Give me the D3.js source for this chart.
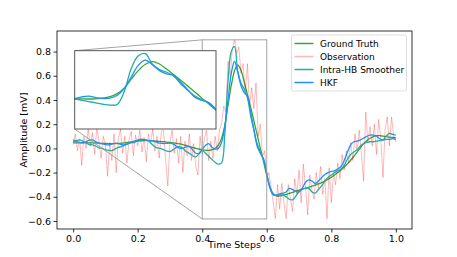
<!DOCTYPE html>
<html lang="en">
<head>
<meta charset="utf-8">
<title>Ground truth vs filters</title>
<script src="https://d3js.org/d3.v7.min.js"></script>
<style>
body { margin: 0; background: #fff; }
svg text { font-family: "DejaVu Sans", sans-serif; fill: #000; }
</style>
</head>
<body>
<div id="chart"></div>
<script>

// time grid of the smooth curves (0.01 steps) and of the noisy observation (1/150 steps)
var tSmooth = d3.range(0, 101).map(function(i){ return i / 100; });
var tObs = d3.range(0, 151).map(function(i){ return i / 150; });

var truth = [
  0.045, 0.046, 0.047, 0.047, 0.047, 0.046, 0.045, 0.044, 0.043, 0.042,
  0.041, 0.040, 0.040, 0.040, 0.041, 0.043, 0.046, 0.050, 0.054, 0.058,
  0.061, 0.063, 0.064, 0.064, 0.063, 0.061, 0.059, 0.057, 0.055, 0.052,
  0.049, 0.046, 0.042, 0.037, 0.031, 0.024, 0.016, 0.008, 0.001, -0.006,
  -0.012, -0.015, -0.016, -0.012, 0.000, 0.027, 0.085, 0.190, 0.360, 0.520,
  0.640, 0.690, 0.645, 0.550, 0.445, 0.340, 0.230, 0.115, 0.000, -0.110,
  -0.225, -0.320, -0.375, -0.392, -0.393, -0.388, -0.380, -0.372, -0.363, -0.354,
  -0.345, -0.337, -0.329, -0.321, -0.312, -0.303, -0.294, -0.283, -0.270, -0.255,
  -0.238, -0.220, -0.200, -0.178, -0.154, -0.128, -0.098, -0.065, -0.030, 0.005,
  0.038, 0.064, 0.084, 0.098, 0.105, 0.105, 0.101, 0.097, 0.093, 0.090,
  0.088
];

var observation = [
  0.03, 0.12, -0.02, 0.08, -0.14, 0.10, 0.00, 0.16, 0.02, 0.13,
  -0.05, 0.17, 0.06, -0.08, 0.10, 0.03, -0.23, 0.05, -0.10, 0.12,
  -0.20, 0.08, 0.16, -0.04, 0.10, -0.12, 0.07, 0.14, -0.06, 0.11,
  0.02, 0.15, -0.03, 0.09, -0.11, 0.12, 0.04, 0.16, -0.02, 0.10,
  -0.08, 0.14, 0.15, -0.10, -0.31, 0.05, 0.15, -0.04, 0.08, -0.12,
  0.10, -0.20, 0.06, -0.06, 0.12, -0.10, 0.04, -0.15, -0.22, 0.10,
  -0.05, 0.08, 0.15, -0.10, 0.06, -0.08, 0.10, -0.02, 0.15, 0.20,
  0.35, 0.30, 0.72, 0.60, 0.82, 0.90, 0.78, 0.84, 0.62, 0.70,
  0.46, 0.70, 0.35, 0.50, 0.33, 0.54, 0.10, 0.20, -0.07, -0.02,
  -0.25, -0.20, -0.32, -0.45, -0.58, -0.30, -0.50, -0.29, -0.45, -0.58,
  -0.30, -0.42, -0.52, -0.25, -0.38, -0.18, -0.45, -0.13, -0.32, -0.55,
  -0.22, -0.35, -0.42, -0.20, -0.33, -0.15, -0.38, -0.25, -0.58, -0.16,
  -0.45, -0.20, -0.30, -0.12, -0.25, -0.05, -0.18, -0.02, -0.12, 0.05,
  -0.10, 0.12, -0.02, 0.15, -0.05, -0.27, 0.30, 0.05, 0.18, 0.02,
  0.20, -0.05, 0.24, 0.08, -0.24, 0.15, 0.26, 0.02, 0.26, 0.10,
  0.05
];

var smoother = [
  0.056, 0.065, 0.070, 0.060, 0.045, 0.032, 0.030, 0.020, 0.005, 0.000,
  -0.010, -0.017, -0.018, -0.005, 0.008, 0.015, 0.028, 0.040, 0.050, 0.060,
  0.068, 0.070, 0.070, 0.065, 0.045, 0.020, 0.005, 0.000, -0.010, -0.022,
  -0.026, -0.010, 0.008, 0.014, 0.000, -0.025, -0.040, -0.060, -0.070, -0.045,
  -0.016, -0.040, -0.065, -0.090, -0.115, -0.130, -0.120, 0.120, 0.560, 0.800,
  0.840, 0.640, 0.540, 0.490, 0.420, 0.270, 0.150, 0.040, -0.030, -0.090,
  -0.210, -0.330, -0.385, -0.390, -0.385, -0.385, -0.400, -0.420, -0.425, -0.395,
  -0.357, -0.335, -0.330, -0.330, -0.360, -0.370, -0.340, -0.310, -0.270, -0.240,
  -0.220, -0.200, -0.185, -0.170, -0.140, -0.090, -0.050, -0.030, -0.010, 0.020,
  0.040, 0.050, 0.055, 0.055, 0.060, 0.065, 0.070, 0.100, 0.125, 0.115,
  0.110
];

var hkf = [
  0.070, 0.060, 0.048, 0.045, 0.055, 0.068, 0.070, 0.055, 0.043, 0.038,
  0.032, 0.029, 0.035, 0.043, 0.040, 0.032, 0.030, 0.038, 0.048, 0.050,
  0.065, 0.076, 0.072, 0.068, 0.064, 0.058, 0.050, 0.043, 0.040, 0.042,
  0.043, 0.035, 0.018, 0.000, 0.003, 0.012, 0.014, -0.010, -0.040, -0.040,
  -0.010, 0.025, 0.040, 0.010, -0.005, 0.000, 0.050, 0.180, 0.400, 0.620,
  0.720, 0.630, 0.520, 0.460, 0.430, 0.300, 0.160, 0.020, -0.040, -0.090,
  -0.210, -0.320, -0.380, -0.385, -0.375, -0.370, -0.360, -0.330, -0.340, -0.355,
  -0.360, -0.330, -0.280, -0.260, -0.270, -0.290, -0.270, -0.240, -0.215, -0.200,
  -0.190, -0.185, -0.170, -0.150, -0.100, -0.030, 0.030, 0.055, 0.060, 0.070,
  0.085, 0.100, 0.110, 0.110, 0.100, 0.080, 0.070, 0.075, 0.075, 0.080,
  0.075
];

var xTicks = [0.0, 0.2, 0.4, 0.6, 0.8, 1.0];
var yTicks = [-0.6, -0.4, -0.2, 0.0, 0.2, 0.4, 0.6, 0.8];

var series = [
  {name: "Ground Truth", t: tSmooth, v: truth, color: "#33a833", width: 1.3, opacity: 1, curve: d3.curveCatmullRom},
  {name: "Observation", t: tObs, v: observation, color: "#ff0000", width: 1, opacity: 0.28, curve: d3.curveLinear},
  {name: "Intra-HB Smoother", t: tSmooth, v: smoother, color: "#20aea4", width: 1.3, opacity: 1, curve: d3.curveCatmullRom},
  {name: "HKF", t: tSmooth, v: hkf, color: "#1e90ff", width: 1.3, opacity: 1, curve: d3.curveCatmullRom}
];

var W = 457, H = 257;
var box = {left: 57, right: 412, top: 31, bottom: 229};

var svg = d3.select("#chart").append("svg")
  .attr("width", W)
  .attr("height", H);

var x = d3.scaleLinear().domain([-0.05, 1.05]).range([box.left, box.right]);
var y = d3.scaleLinear().domain([-0.666, 0.97]).range([box.bottom, box.top]);

svg.append("clipPath").attr("id", "clipMain")
  .append("rect")
  .attr("x", box.left).attr("y", box.top)
  .attr("width", box.right - box.left).attr("height", box.bottom - box.top);

// main lines
var main = svg.append("g").attr("clip-path", "url(#clipMain)");
series.forEach(function(s){
  var line = d3.line()
    .x(function(d, i){ return x(s.t[i]); })
    .y(function(d){ return y(d); })
    .curve(s.curve);
  main.append("path")
    .attr("d", line(s.v))
    .style("fill", "none")
    .style("stroke", s.color)
    .style("stroke-opacity", s.opacity)
    .style("stroke-width", s.width);
});

// axes
var xAxis = svg.append("g")
  .attr("transform", "translate(0," + box.bottom + ")")
  .call(d3.axisBottom(x).tickValues(xTicks).tickFormat(d3.format(".1f")).tickSize(3.5).tickPadding(2.5));
var yAxis = svg.append("g")
  .attr("transform", "translate(" + box.left + ",0)")
  .call(d3.axisLeft(y).tickValues(yTicks).tickFormat(function(d){ return d3.format(".1f")(d).replace("-", "\u2212"); }).tickSize(3.5).tickPadding(2.5));
[xAxis, yAxis].forEach(function(a){
  a.select(".domain").remove();
  a.selectAll("line").style("stroke", "#000").style("stroke-width", 0.8);
  a.selectAll("text").style("font-size", "9.5px").style("font-family", "DejaVu Sans, sans-serif");
});

svg.append("rect")
  .attr("x", box.left).attr("y", box.top)
  .attr("width", box.right - box.left).attr("height", box.bottom - box.top)
  .style("fill", "none").style("stroke", "#000").style("stroke-width", 0.8);

svg.append("text")
  .attr("x", (box.left + box.right) / 2)
  .attr("y", 247.5)
  .attr("text-anchor", "middle")
  .style("font-size", "9.5px")
  .text("Time Steps");

svg.append("text")
  .attr("transform", "translate(27," + ((box.top + box.bottom) / 2) + ") rotate(-90)")
  .attr("text-anchor", "middle")
  .style("font-size", "9.5px")
  .text("Amplitude [mV]");

// zoomed inset
var ix0 = 0.4, ix1 = 0.6, iy0 = -0.583, iy1 = 0.897;
var ibox = {left: 74.7, right: 216, top: 50.7, bottom: 129};
var xi = d3.scaleLinear().domain([ix0, ix1]).range([ibox.left, ibox.right]);
var yi = d3.scaleLinear().domain([iy0, iy1]).range([ibox.bottom, ibox.top]);

// marker rectangle and connectors
svg.append("rect")
  .attr("x", x(ix0)).attr("y", y(iy1))
  .attr("width", x(ix1) - x(ix0)).attr("height", y(iy0) - y(iy1))
  .style("fill", "none").style("stroke", "#999").style("stroke-width", 0.9);
svg.append("line")
  .attr("x1", ibox.left).attr("y1", ibox.top).attr("x2", x(ix0)).attr("y2", y(iy1))
  .style("stroke", "#999").style("stroke-width", 0.9);
svg.append("line")
  .attr("x1", ibox.left).attr("y1", ibox.bottom).attr("x2", x(ix0)).attr("y2", y(iy0))
  .style("stroke", "#999").style("stroke-width", 0.9);

svg.append("clipPath").attr("id", "clipInset")
  .append("rect")
  .attr("x", ibox.left).attr("y", ibox.top)
  .attr("width", ibox.right - ibox.left).attr("height", ibox.bottom - ibox.top);

svg.append("rect")
  .attr("x", ibox.left).attr("y", ibox.top)
  .attr("width", ibox.right - ibox.left).attr("height", ibox.bottom - ibox.top)
  .style("fill", "#fff");

var inset = svg.append("g").attr("clip-path", "url(#clipInset)");
series.filter(function(s){ return s.name != "Observation"; }).forEach(function(s){
  var line = d3.line()
    .x(function(d, i){ return xi(s.t[i]); })
    .y(function(d){ return yi(d); })
    .curve(s.curve);
  inset.append("path")
    .attr("d", line(s.v))
    .style("fill", "none")
    .style("stroke", s.color)
    .style("stroke-width", s.width);
});

svg.append("rect")
  .attr("x", ibox.left).attr("y", ibox.top)
  .attr("width", ibox.right - ibox.left).attr("height", ibox.bottom - ibox.top)
  .style("fill", "none").style("stroke", "#444").style("stroke-width", 0.9);

// legend
var lg = svg.append("g");
lg.append("rect")
  .attr("x", 291.5).attr("y", 35).attr("width", 115).attr("height", 56)
  .attr("rx", 2)
  .style("fill", "#fff").style("fill-opacity", 0.8)
  .style("stroke", "#d6d6d6").style("stroke-width", 0.8);
series.forEach(function(s, i){
  var yy = 43.5 + i * 13;
  lg.append("line")
    .attr("x1", 294.5).attr("x2", 313.5).attr("y1", yy).attr("y2", yy)
    .style("stroke", s.color).style("stroke-opacity", s.opacity).style("stroke-width", 1.5);
  lg.append("text")
    .attr("x", 320).attr("y", yy)
    .attr("dy", "0.35em")
    .style("font-size", "9px")
    .text(s.name);
});

</script>
</body>
</html>
